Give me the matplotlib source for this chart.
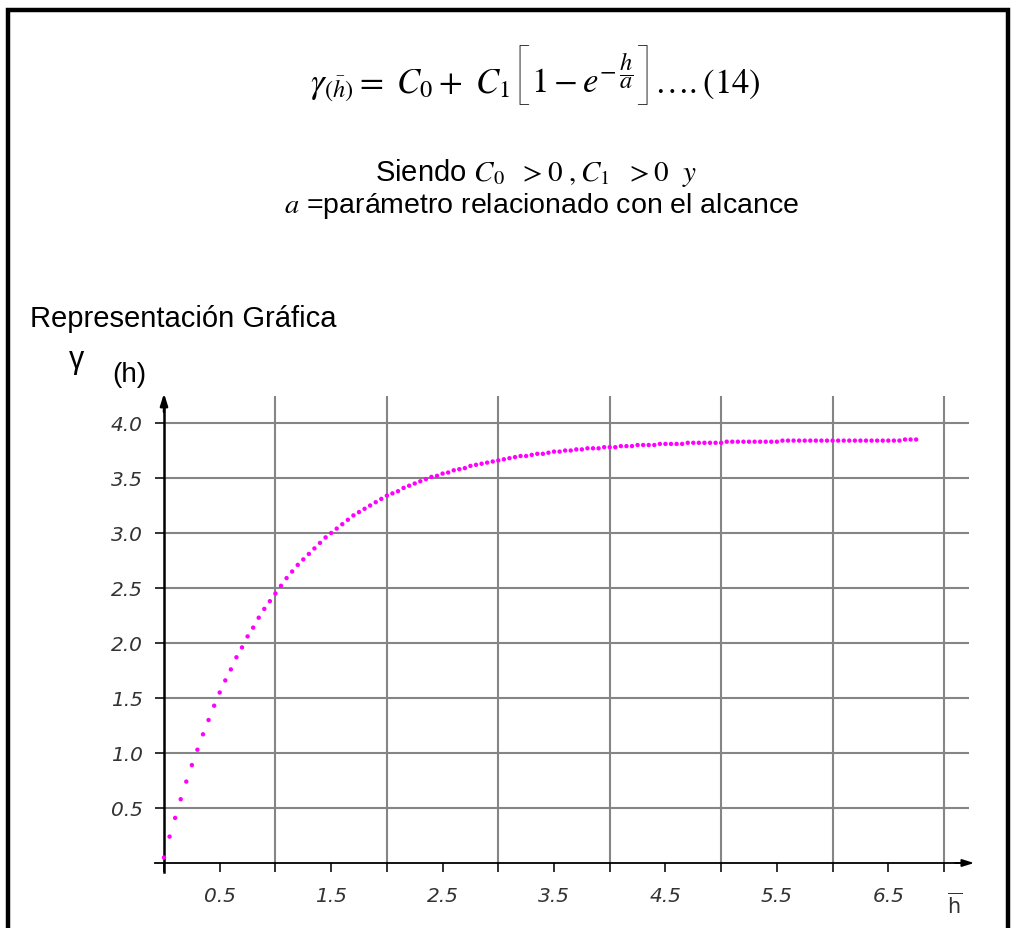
import matplotlib
matplotlib.use("Agg")
import matplotlib.pyplot as plt
from matplotlib.patches import Rectangle

plt.rcParams['mathtext.fontset'] = 'stix'

# Lag distance h (step 0.05) and semivariogram values gamma(h)
h = [round(0.05 * i, 2) for i in range(136)]
gamma = [
    0.05, 0.24, 0.41, 0.58, 0.74, 0.89, 1.03, 1.17, 1.30, 1.43,
    1.55, 1.66, 1.76, 1.87, 1.96, 2.06, 2.14, 2.23, 2.31, 2.38,
    2.45, 2.52, 2.59, 2.65, 2.71, 2.76, 2.81, 2.86, 2.91, 2.96,
    3.00, 3.04, 3.08, 3.12, 3.16, 3.19, 3.22, 3.25, 3.28, 3.31,
    3.34, 3.36, 3.38, 3.41, 3.43, 3.45, 3.47, 3.49, 3.51, 3.52,
    3.54, 3.55, 3.57, 3.58, 3.59, 3.61, 3.62, 3.63, 3.64, 3.65,
    3.66, 3.67, 3.68, 3.69, 3.70, 3.70, 3.71, 3.72, 3.72, 3.73,
    3.74, 3.74, 3.75, 3.75, 3.76, 3.76, 3.77, 3.77, 3.77, 3.78,
    3.78, 3.78, 3.79, 3.79, 3.79, 3.80, 3.80, 3.80, 3.80, 3.81,
    3.81, 3.81, 3.81, 3.81, 3.82, 3.82, 3.82, 3.82, 3.82, 3.82,
    3.82, 3.83, 3.83, 3.83, 3.83, 3.83, 3.83, 3.83, 3.83, 3.83,
    3.83, 3.84, 3.84, 3.84, 3.84, 3.84, 3.84, 3.84, 3.84, 3.84,
    3.84, 3.84, 3.84, 3.84, 3.84, 3.84, 3.84, 3.84, 3.84, 3.84,
    3.84, 3.84, 3.84, 3.85, 3.85, 3.85,
]

x_ticks = [0.5 * i for i in range(15)]
x_tick_labels = ["" if i % 2 == 0 else f"{0.5 * i:.1f}" for i in range(15)]
y_ticks = [0.5, 1.0, 1.5, 2.0, 2.5, 3.0, 3.5, 4.0]
y_tick_labels = ["0.5", "1.0", "1.5", "2.0", "2.5", "3.0", "3.5", "4.0"]
x_grid = [1, 2, 3, 4, 5, 6, 7]

W, H = 1014, 929
fig = plt.figure(figsize=(W / 100, H / 100), dpi=100)
fig.patch.set_facecolor("white")
renderer = fig.canvas.get_renderer()

# frame around the sheet
fig.patches.append(Rectangle((8 / W, -0.05), 1000 / W, 1.05 - 11 / H,
                             transform=fig.transFigure, fill=False,
                             edgecolor="black", linewidth=3.2))

# equation (14), laid out piece by piece so the brackets can be tall
eq_pieces = [
    (r"$\gamma_{(\bar{h})} =\ C_0 +\ C_1$", 25, "baseline", 93, "math", 1),
    ("[", 50, "center", 79, "Lato", 0),
    (r"$1 - e^{-\,\dfrac{h}{a}}$", 25, "baseline", 93, "math", 0),
    ("]", 50, "center", 79, "Lato", 0),
    (r"$\ldots.(14)$", 25, "baseline", 93, "math", 0),
]
cursor = 310
for txt, fs, va, ypx, fam, gap in eq_pieces:
    kw = {} if fam == "math" else {"family": fam, "fontweight": "light"}
    t = fig.text(cursor / W, 1 - ypx / H, txt, ha="left", va=va, fontsize=fs, **kw)
    bb = t.get_window_extent(renderer=renderer)
    cursor += bb.width + gap

sans = "Liberation Sans"
fig.text(536 / W, 1 - 173 / H,
         r"Siendo $C_0\ \ > 0\ ,C_1\ \ > 0\ \ y$",
         ha="center", va="center", fontsize=21, family=sans)
fig.text(541 / W, 1 - 206 / H,
         r"$a$ =parámetro relacionado con el alcance",
         ha="center", va="center", fontsize=20.5, family=sans)
fig.text(30 / W, 1 - 319 / H, "Representación Gráfica",
         ha="left", va="center", fontsize=21, family=sans)
fig.text(77 / W, 1 - 360 / H, "γ", ha="center", va="center",
         fontsize=22, family=sans)
fig.text(129 / W, 1 - 375 / H, "(h)", ha="center", va="center",
         fontsize=20, family=sans)

# plot area: x = 0 at 164 px, 111.43 px per unit; y = 0 at 864 px, 110 px per unit
x0, xs = 164, 111.43
y0, ys = 864, 110.0
xmin, xmax = -0.2, 7.4
ymin, ymax = -0.1, 4.35
left = (x0 + xmin * xs) / W
right = (x0 + xmax * xs) / W
bottom = 1 - (y0 - ymin * ys) / H
top = 1 - (y0 - ymax * ys) / H
ax = fig.add_axes([left, bottom, right - left, top - bottom])
ax.set_xlim(xmin, xmax)
ax.set_ylim(ymin, ymax)
ax.set_facecolor("none")

grid_kw = dict(color="#858585", linewidth=1.5, zorder=1, solid_capstyle="butt")
for gy in y_ticks:
    ax.plot([0, 7.22], [gy, gy], **grid_kw)
for gx in x_grid:
    ax.plot([gx, gx], [0, 4.25], **grid_kw)

# axes through the origin
for side in ("top", "right"):
    ax.spines[side].set_visible(False)
ax.spines["bottom"].set_position(("data", 0))
ax.spines["left"].set_position(("data", 0))
ax.spines["bottom"].set_bounds(-0.08, 7.2)
ax.spines["left"].set_bounds(-0.08, 4.2)
ax.spines["bottom"].set_linewidth(1.3)
ax.spines["left"].set_linewidth(1.8)
ax.spines["bottom"].set_zorder(3)
ax.spines["left"].set_zorder(3)
ax.annotate("", xy=(7.27, 0), xytext=(7.1, 0),
            arrowprops=dict(arrowstyle="-|>,head_length=0.7,head_width=0.22",
                            color="black", lw=1.3, shrinkA=0, shrinkB=0))
ax.annotate("", xy=(0, 4.27), xytext=(0, 4.1),
            arrowprops=dict(arrowstyle="-|>,head_length=0.7,head_width=0.22",
                            color="black", lw=1.8, shrinkA=0, shrinkB=0))

tick_font = dict(family="DejaVu Sans", style="italic", size=14.5, color="#333333")
ax.set_xticks(x_ticks)
ax.set_xticklabels(x_tick_labels, fontdict=tick_font)
ax.set_yticks(y_ticks)
ax.set_yticklabels(y_tick_labels, fontdict=tick_font)
ax.tick_params(axis="both", direction="out", length=6.5, width=1.3, color="#222222")
ax.tick_params(axis="x", pad=10)
ax.tick_params(axis="y", pad=9)

ax.text(7.0 + 3 / xs, -0.37, r"$\overline{\mathrm{h}}$", ha="left", va="center",
        fontsize=15, color="#333333", math_fontfamily="dejavusans")

# semivariogram dots
ax.scatter(h, gamma, s=10, color="#ff00ff", edgecolors="none", zorder=4,
           clip_on=False)

fig.savefig("out.png", dpi=100, facecolor="white")
